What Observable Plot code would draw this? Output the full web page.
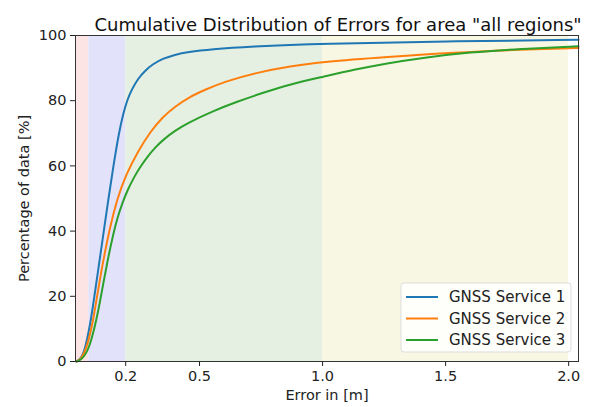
<!DOCTYPE html>
<html>
<head>
<meta charset="utf-8">
<script src="https://cdn.jsdelivr.net/npm/d3@7"></script>
<script src="https://cdn.jsdelivr.net/npm/@observablehq/plot@0.6"></script>
<style>
  html, body { margin: 0; padding: 0; background: #fff; }
  #chart { position: relative; width: 589px; height: 407px; }
</style>
</head>
<body>
<div id="chart"></div>
<script>
const seriesNames = ["GNSS Service 1", "GNSS Service 2", "GNSS Service 3"];
const seriesColors = ["#1f77b4", "#ff7f0e", "#2ca02c"];

const service1 = [[0,0],[0.02,1],[0.037,4.4],[0.057,12],[0.07,18.5],[0.09,29],[0.111,40],[0.13,50],[0.15,60],[0.172,70],[0.19,76],[0.205,80],[0.225,83.5],[0.25,86.8],[0.28,89.3],[0.31,91.2],[0.35,92.9],[0.4,94.1],[0.45,94.9],[0.55,95.8],[0.7,96.6],[1.0,97.5],[1.5,98.2],[2.04,98.7]];
const service2 = [[0,0],[0.02,0.8],[0.043,4.4],[0.068,12.6],[0.084,20.2],[0.1,27.3],[0.115,33.3],[0.135,40.8],[0.165,49.8],[0.2,57.2],[0.25,64.5],[0.3,70.5],[0.35,75],[0.4,78.2],[0.46,81.2],[0.52,83.3],[0.6,85.8],[0.73,88.6],[0.87,90.6],[1.0,91.9],[1.263,93.4],[1.534,94.8],[1.805,95.65],[2.04,96.2]];
const service3 = [[0,0],[0.02,0.5],[0.05,3.4],[0.081,12.6],[0.1,20.2],[0.111,24.8],[0.13,32.3],[0.149,39],[0.167,44.2],[0.186,48.6],[0.21,53],[0.233,56.4],[0.26,59.8],[0.287,62.7],[0.32,65.7],[0.355,68.2],[0.4,70.8],[0.45,73.1],[0.56,77],[0.653,79.7],[0.748,82.2],[0.87,85.1],[1.0,87.3],[1.127,89.5],[1.263,91.5],[1.398,93.1],[1.6,94.9],[1.805,95.9],[2.04,96.7]];

const bandStarts = [0, 0.05, 0.2, 1.0];
const bandEnds = [0.05, 0.2, 1.0, 2.0];
const bandColors = ["#fde4e4", "#e2e2fb", "#e5f0e3", "#f8f7e4"];

const xTicks = [0.2, 0.5, 1.0, 1.5, 2.0];
const xTickLabels = ["0.2", "0.5", "1.0", "1.5", "2.0"];
const yTicks = [0, 20, 40, 60, 80, 100];

const titleText = 'Cumulative Distribution of Errors for area "all regions"';
const xLabel = "Error in [m]";
const yLabel = "Percentage of data [%]";

const allSeries = [service1, service2, service3];
const lines = allSeries.flatMap((s, i) => s.map(([x, y]) => ({x, y, series: seriesNames[i]})));
const bands = bandStarts.map((s, i) => ({x1: s, x2: bandEnds[i], color: bandColors[i]}));

const plot = Plot.plot({
  width: 589,
  height: 407,
  marginLeft: 75,
  marginRight: 11,
  marginTop: 35,
  marginBottom: 46,
  style: {fontFamily: "DejaVu Sans", fontSize: "14.5px", color: "#222", background: "#fff"},
  x: {domain: [-0.004, 2.04]},
  y: {domain: [0, 100]},
  color: {domain: seriesNames, range: seriesColors},
  marks: [
    Plot.rect(bands, {x1: "x1", x2: "x2", y1: 0, y2: 100, fill: "color"}),
    Plot.line(lines, {x: "x", y: "y", stroke: "series", strokeWidth: 2, curve: "basis"}),
    Plot.frame({stroke: "#333", strokeWidth: 1}),
    Plot.axisX({ticks: xTicks, tickFormat: (d, i) => xTickLabels[i], tickSize: 5, tickPadding: 4, fontSize: 14.5, label: xLabel, labelAnchor: "center", labelArrow: "none", labelOffset: 38}),
    Plot.axisY({ticks: yTicks, tickSize: 5, tickPadding: 4, fontSize: 14.5, label: yLabel, labelAnchor: "center", labelArrow: "none", labelOffset: 57}),
    Plot.text([titleText], {frameAnchor: "top", dy: -17, dx: 11, fontSize: 18, fill: "#111"})
  ]
});

document.getElementById("chart").appendChild(plot);

// Legend drawn inside the plot area
const svg = d3.select(plot);
const lx = 401, ly = 283, lw = 170, lh = 69;
const g = svg.append("g").attr("text-anchor", "start");
g.append("rect").attr("x", lx).attr("y", ly).attr("width", lw).attr("height", lh)
  .attr("rx", 3).attr("fill", "#fff").attr("fill-opacity", 0.85).attr("stroke", "#ddd");
seriesNames.forEach((name, i) => {
  const cy = ly + 14 + i * 21.5;
  g.append("line").attr("x1", lx + 5).attr("x2", lx + 37).attr("y1", cy).attr("y2", cy)
    .attr("stroke", seriesColors[i]).attr("stroke-width", 2);
  g.append("text").attr("x", lx + 48).attr("y", cy).attr("dy", "0.35em").attr("text-anchor", "start")
    .attr("font-size", 15).attr("font-family", "DejaVu Sans").attr("fill", "#222").text(name);
});
</script>
</body>
</html>
